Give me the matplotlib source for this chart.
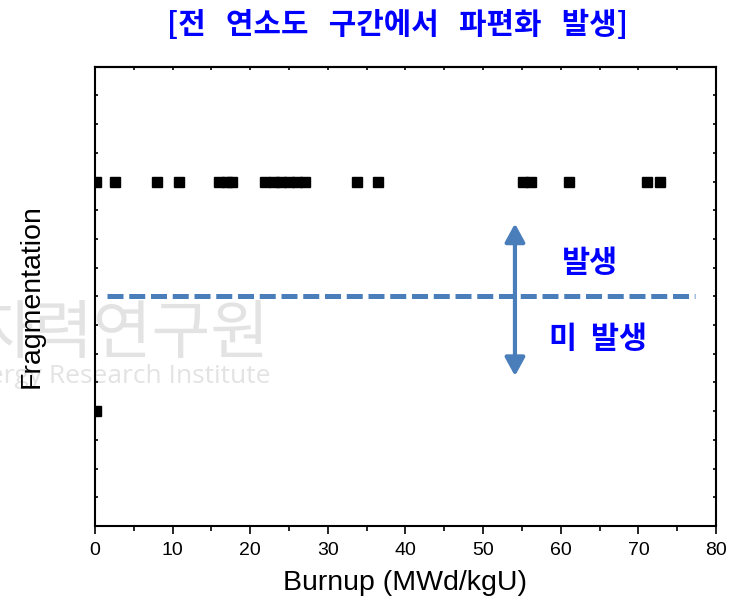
import matplotlib
matplotlib.use("Agg")
import matplotlib.pyplot as plt
from matplotlib.patches import FancyArrowPatch
from matplotlib.ticker import MultipleLocator

# 연소도별 파편화 발생 여부 (1 = 발생, 0 = 미발생)
burnup_frag = [0.1, 2.6, 8.0, 10.8, 16.0, 17.0, 17.7, 21.9, 23.0, 24.0, 25.0,
               26.0, 27.0, 33.8, 36.5, 55.2, 56.2, 61.0, 71.1, 72.8]
burnup_nofrag = [0.1]

# 발생/미발생 경계선
threshold_x = [1.5, 77.3]
threshold_y = 0.5
arrow_x = 54.1
arrow_y = [0.153, 0.817]

title = "[전   연소도   구간에서   파편화   발생]"
label_up = "발생"
label_down = "미  발생"

kor_font = ["Noto Sans CJK KR", "DejaVu Sans"]
lat_font = ["Liberation Sans", "DejaVu Sans"]
blue_line = "#4a7ebb"

plt.rcParams["font.family"] = lat_font

fig = plt.figure(figsize=(7.34, 6.09), dpi=100, facecolor="white")
ax = fig.add_axes([0.1294, 0.1363, 0.8461, 0.7542])
ax.set_facecolor("none")

# 배경 워터마크
fig.text(0.368, 0.42, "한국원자력연구원", family=kor_font, fontsize=46,
         color="#e3e3e3", ha="right", va="baseline", zorder=-1)
fig.text(0.368, 0.371, "Korea Atomic Energy Research Institute",
         family=["Open Sans", "DejaVu Sans"], fontsize=19,
         color="#e3e3e3", ha="right", va="baseline", zorder=-1)

ax.plot(burnup_frag, [1] * len(burnup_frag), "s", color="black",
        markersize=7.5, linestyle="none", zorder=3)
ax.plot(burnup_nofrag, [0] * len(burnup_nofrag), "s", color="black",
        markersize=7.5, linestyle="none", zorder=3)

ax.plot(threshold_x, [threshold_y, threshold_y], color=blue_line,
        linewidth=3.6, linestyle=(0, (3.2, 1.15)), zorder=2)

arrow = FancyArrowPatch((arrow_x, arrow_y[0]), (arrow_x, arrow_y[1]),
                        arrowstyle="<|-|>,head_length=0.55,head_width=0.3",
                        mutation_scale=20, color=blue_line, linewidth=3,
                        shrinkA=0, shrinkB=0, zorder=2)
ax.add_patch(arrow)

ax.text(63.8, 0.646, label_up, family=kor_font, fontsize=22,
        fontweight="bold", color="blue", ha="center", va="center")
ax.text(64.8, 0.314, label_down, family=kor_font, fontsize=22,
        fontweight="bold", color="blue", ha="center", va="center")

ax.set_xlim(0, 80)
ax.set_ylim(-0.5, 1.5)

ax.xaxis.set_major_locator(MultipleLocator(10))
ax.xaxis.set_minor_locator(MultipleLocator(5))
ax.yaxis.set_major_locator(MultipleLocator(0.125))
ax.tick_params(axis="x", which="major", direction="out", length=6,
               width=1.2, labelsize=14, pad=5.5, top=False)
ax.tick_params(axis="x", which="minor", direction="out", length=3.3,
               width=1.2, top=False)
ax.tick_params(axis="y", which="major", direction="in", length=2.5,
               width=1.2, left=True, right=True, labelleft=False)

# 위쪽 눈금은 안쪽으로
top = ax.secondary_xaxis("top")
top.xaxis.set_major_locator(MultipleLocator(5))
top.tick_params(direction="in", length=2.5, width=1.2, labeltop=False)
top.spines["top"].set_linewidth(1.5)

for spine in ax.spines.values():
    spine.set_linewidth(1.5)

ax.set_xlabel("Burnup (MWd/kgU)", fontsize=20.5, labelpad=8)
ax.set_ylabel("Fragmentation", fontsize=20.5, labelpad=36)

fig.text(0.542, 0.959, title, family=kor_font, fontsize=21.5,
         fontweight="bold", color="blue", ha="center", va="center")

fig.savefig("out.png", dpi=100, facecolor="white")
